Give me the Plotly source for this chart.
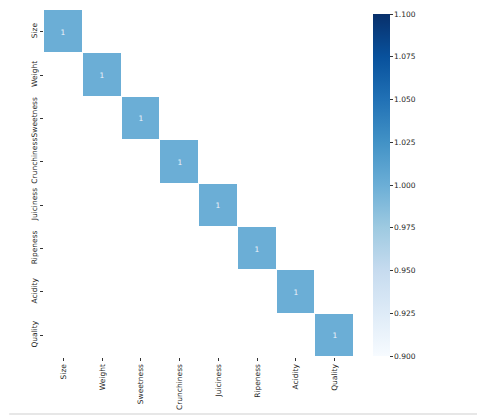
import plotly.graph_objects as go

features = ["Size", "Weight", "Sweetness", "Crunchiness", "Juiciness", "Ripeness", "Acidity", "Quality"]
# masked correlation matrix: only diagonal values remain visible
diag_values = [1, 1, 1, 1, 1, 1, 1, 1]
cbar_ticks = [0.900, 0.925, 0.950, 0.975, 1.000, 1.025, 1.050, 1.075, 1.100]

n = len(features)
z = [[diag_values[i] if i == j else None for j in range(n)] for i in range(n)]
txt = [[str(diag_values[i]) if i == j else "" for j in range(n)] for i in range(n)]

blues = [
    [0.0, "#f7fbff"], [0.125, "#deebf7"], [0.25, "#c6dbef"], [0.375, "#9ecae1"],
    [0.5, "#6baed6"], [0.625, "#4292c6"], [0.75, "#2171b5"], [0.875, "#08519c"],
    [1.0, "#08306b"],
]

# page body has an 8px offset; compensate so the plot lands where the reference is
OFF = 8
W, H = 485 - OFF, 417 - OFF
L, T = 44 - OFF, 10 - OFF
pw, ph = 310, 347
R, B = W - L - pw, H - T - ph

cb_top, cb_bot = 14, 356  # page pixels
fig = go.Figure(go.Heatmap(
    z=z, x=features, y=features, text=txt, texttemplate="%{text}",
    textfont=dict(size=7.5, color="#eef4fa", family="DejaVu Sans"),
    colorscale=blues, zmin=0.9, zmax=1.1, xgap=1, ygap=1,
    hoverinfo="skip",
    colorbar=dict(
        x=(373 - 44) / pw, xanchor="left",
        y=(357 - cb_bot) / ph, yanchor="bottom",
        len=(cb_bot - cb_top) / ph, lenmode="fraction",
        thickness=17, outlinewidth=0, xpad=0, ypad=0,
        tickvals=cbar_ticks, ticktext=[f"{v:.3f}" for v in cbar_ticks],
        ticklabeloverflow="allow",
        ticks="outside", ticklen=3, tickwidth=0.8, tickcolor="#333333",
        tickfont=dict(size=7.5, color="#262626", family="DejaVu Sans"),
    ),
))

fig.update_xaxes(
    tickangle=-90, ticks="outside", ticklen=3, tickwidth=0.8, tickcolor="#333333",
    tickfont=dict(size=7.5, color="#262626", family="DejaVu Sans"),
    showgrid=False, zeroline=False, showline=False, automargin=False,
)
fig.update_yaxes(
    autorange="reversed", tickangle=-90, ticks="outside", ticklen=3, tickwidth=0.8,
    tickcolor="#333333", tickfont=dict(size=7.5, color="#262626", family="DejaVu Sans"),
    showgrid=False, zeroline=False, showline=False, automargin=False,
)

# light frame lines of the original screenshot (left and bottom edges)
x_left = (3 - 44) / pw
y_bot = -(414 - 357) / ph
fig.add_shape(type="line", xref="paper", yref="paper",
              x0=x_left, x1=x_left, y0=y_bot + 0.02, y1=1 + 20 / ph,
              line=dict(color="#cfcfcf", width=1))
fig.add_shape(type="line", xref="paper", yref="paper",
              x0=x_left + 0.02, x1=(500 - 44) / pw, y0=y_bot, y1=y_bot,
              line=dict(color="#cfcfcf", width=1))

fig.update_layout(
    width=W, height=H, margin=dict(l=L, r=R, t=T, b=B, autoexpand=False),
    plot_bgcolor="white", paper_bgcolor="white",
    font=dict(family="DejaVu Sans"),
)

fig.write_html("out.html")
